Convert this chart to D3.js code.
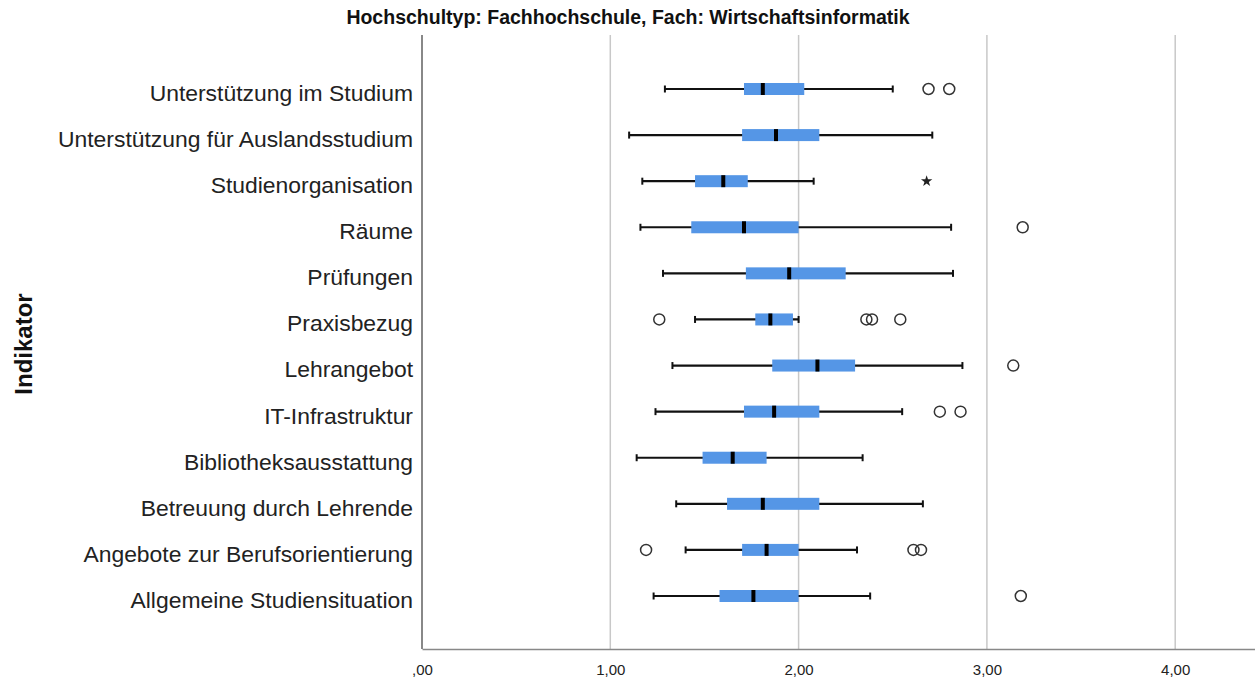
<!DOCTYPE html>
<html>
<head>
<meta charset="utf-8">
<script src="https://cdn.jsdelivr.net/npm/d3@7"></script>
<style>
  body { margin: 0; background: #fff; }
  svg { display: block; }
</style>
</head>
<body>
<div id="chart"></div>
<script>
// categories, top to bottom
const categories = [
    "Unterstützung im Studium",
    "Unterstützung für Auslandsstudium",
    "Studienorganisation",
    "Räume",
    "Prüfungen",
    "Praxisbezug",
    "Lehrangebot",
    "IT-Infrastruktur",
    "Bibliotheksausstattung",
    "Betreuung durch Lehrende",
    "Angebote zur Berufsorientierung",
    "Allgemeine Studiensituation"
];
// five-number summaries
const whiskerLow  = [1.29, 1.10, 1.17, 1.16, 1.28, 1.45, 1.33, 1.24, 1.14, 1.35, 1.40, 1.23];
const q1          = [1.71, 1.70, 1.45, 1.43, 1.72, 1.77, 1.86, 1.71, 1.49, 1.62, 1.70, 1.58];
const median      = [1.81, 1.88, 1.60, 1.71, 1.95, 1.85, 2.10, 1.87, 1.65, 1.81, 1.83, 1.76];
const q3          = [2.03, 2.11, 1.73, 2.00, 2.25, 1.97, 2.30, 2.11, 1.83, 2.11, 2.00, 2.00];
const whiskerHigh = [2.50, 2.71, 2.08, 2.81, 2.82, 2.00, 2.87, 2.55, 2.34, 2.66, 2.31, 2.38];
// outliers (circles) and extremes (stars)
const outliers = [
    [2.69, 2.80],
    [],
    [],
    [3.19],
    [],
    [1.26, 2.36, 2.39, 2.54],
    [3.14],
    [2.75, 2.86],
    [],
    [],
    [1.19, 2.61, 2.65],
    [3.18]
];
const extremes = [[], [], [2.68], [], [], [], [], [], [], [], [], []];
const xTicks = [0, 1, 2, 3, 4];

const W = 1255, H = 684;
const margin = { left: 422, right: 0, top: 35, bottom: 35 };
const BOX_COLOR = "#5596e6";

const svg = d3.select("#chart").append("svg")
    .attr("width", W)
    .attr("height", H);

const x = d3.scaleLinear()
    .domain([0, (W - margin.left) / 188.3])
    .range([margin.left, W - margin.right]);

const y = d3.scalePoint()
    .domain(categories)
    .range([89, 596]);

const plotBottom = H - margin.bottom;

// grid lines
svg.append("g").selectAll("line")
    .data(xTicks.filter(d => d > 0))
    .join("line")
    .attr("x1", d => x(d)).attr("x2", d => x(d))
    .attr("y1", margin.top).attr("y2", plotBottom)
    .attr("stroke", "#c8c8c8")
    .attr("stroke-width", 1.5);

// axes
const xAxis = svg.append("g")
    .attr("transform", `translate(0,${plotBottom})`)
    .call(d3.axisBottom(x).tickValues(xTicks).tickSize(0).tickPadding(15)
        .tickFormat(d => d3.format(".2f")(d).replace(".", ",").replace(/^0/, "")));
xAxis.select(".domain").attr("stroke", "#888").attr("stroke-width", 1.5);
xAxis.selectAll("text")
    .attr("font-family", "Liberation Sans, Arial, sans-serif")
    .attr("font-size", 15)
    .attr("fill", "#222");

const yAxis = svg.append("g")
    .attr("transform", `translate(${margin.left},0)`)
    .call(d3.axisLeft(y).tickSize(0).tickPadding(9));
yAxis.select(".domain").remove();
yAxis.selectAll("text")
    .attr("font-family", "Liberation Sans, Arial, sans-serif")
    .attr("font-size", 22.9)
    .attr("dy", "0.5em")
    .attr("fill", "#222");

svg.append("line")
    .attr("x1", margin.left).attr("x2", margin.left)
    .attr("y1", margin.top).attr("y2", plotBottom)
    .attr("stroke", "#888")
    .attr("stroke-width", 2);

// boxes
const rows = categories.map((c, i) => ({
    cat: c, lo: whiskerLow[i], q1: q1[i], med: median[i], q3: q3[i], hi: whiskerHigh[i],
    out: outliers[i], ext: extremes[i]
}));

const g = svg.append("g").selectAll("g")
    .data(rows)
    .join("g")
    .attr("transform", d => `translate(0,${y(d.cat)})`);

g.append("line")
    .attr("x1", d => x(d.lo)).attr("x2", d => x(d.hi))
    .attr("stroke", "#111").attr("stroke-width", 2.2);

g.selectAll(".cap")
    .data(d => [d.lo, d.hi])
    .join("line")
    .attr("class", "cap")
    .attr("x1", v => x(v)).attr("x2", v => x(v))
    .attr("y1", -3.5).attr("y2", 3.5)
    .attr("stroke", "#111").attr("stroke-width", 2);

g.append("rect")
    .attr("x", d => x(d.q1))
    .attr("width", d => x(d.q3) - x(d.q1))
    .attr("y", -6).attr("height", 12)
    .attr("fill", BOX_COLOR);

g.append("line")
    .attr("x1", d => x(d.med)).attr("x2", d => x(d.med))
    .attr("y1", -6).attr("y2", 6)
    .attr("stroke", "#000").attr("stroke-width", 4);

g.selectAll(".out")
    .data(d => d.out)
    .join("circle")
    .attr("class", "out")
    .attr("cx", v => x(v))
    .attr("r", 5.5)
    .attr("fill", "none")
    .attr("stroke", "#333")
    .attr("stroke-width", 1.5);

g.selectAll(".ext")
    .data(d => d.ext)
    .join("path")
    .attr("class", "ext")
    .attr("transform", v => `translate(${x(v)},0)`)
    .attr("d", d3.symbol(d3.symbolStar, 40))
    .attr("fill", "#222");

// titles
svg.append("text")
    .attr("x", 628).attr("y", 24)
    .attr("text-anchor", "middle")
    .attr("font-family", "Liberation Sans Narrow, Arial Narrow, Liberation Sans, sans-serif")
    .attr("font-weight", "bold")
    .attr("font-size", 19.5)
    .attr("fill", "#111")
    .text("Hochschultyp: Fachhochschule, Fach: Wirtschaftsinformatik");

svg.append("text")
    .attr("transform", "translate(32,344) rotate(-90)")
    .attr("text-anchor", "middle")
    .attr("font-family", "Liberation Sans, Arial, sans-serif")
    .attr("font-weight", "bold")
    .attr("font-size", 24)
    .attr("fill", "#111")
    .text("Indikator");
</script>
</body>
</html>
